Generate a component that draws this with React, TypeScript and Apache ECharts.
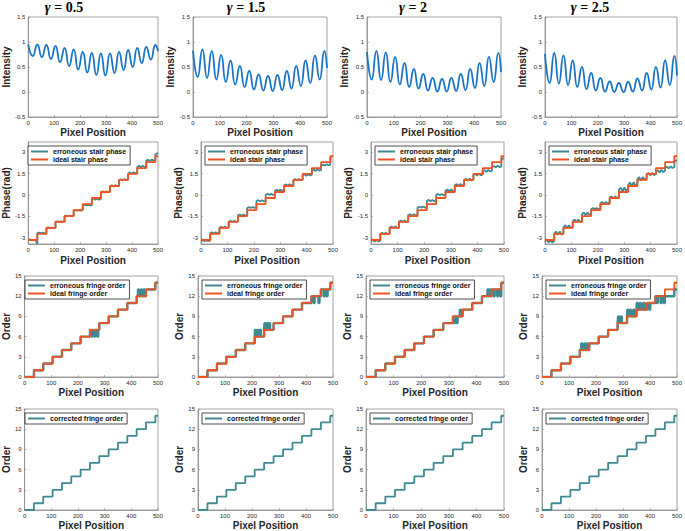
import React, { useEffect, useRef } from 'react';
import * as echarts from 'echarts';

const FONT = '"Liberation Sans", Arial, sans-serif';
const BLUE = '#1a74c6';
const TEAL = '#3f8a92';
const ORANGE = '#ee5422';

const gammaLabels = ['0.5', '1.5', '2', '2.5'];
const xTicks = [0, 100, 200, 300, 400, 500];
const phaseTicks = [-3, -1.5, 0, 1.5, 3];
const orderTicks = [0, 3, 6, 9, 12, 15];
const intensityTicks = [-0.5, 0, 0.5, 1, 1.5];

// fringe step positions (pixel) and ideal stair-phase levels
const stepX = [35, 70, 105, 140, 175, 210, 245, 280, 315, 350, 385, 420, 455, 490];
const phaseLevels = [-3.14, -2.72, -2.3, -1.88, -1.47, -1.05, -0.63, -0.21, 0.21, 0.63, 1.05, 1.47, 1.88, 2.3, 2.72];
const orderLevels = [0, 1, 2, 3, 4, 5, 6, 7, 8, 9, 10, 11, 12, 13, 14];

// intensity extremes: peaks at peakX, troughs at troughX, last value at 500
const peakX = [0, 35, 70, 105, 140, 175, 210, 245, 280, 315, 350, 385, 420, 455, 490];
const troughX = [17.5, 52.5, 87.5, 122.5, 157.5, 192.5, 227.5, 262.5, 297.5, 332.5, 367.5, 402.5, 437.5, 472.5];

const peaks05 = [0.95, 0.95, 0.94, 0.92, 0.88, 0.85, 0.8, 0.78, 0.77, 0.77, 0.8, 0.84, 0.88, 0.9, 0.94];
const troughs05 = [0.72, 0.7, 0.66, 0.6, 0.52, 0.45, 0.39, 0.34, 0.33, 0.38, 0.44, 0.5, 0.58, 0.65];
const end05 = 0.82;

const peaks15 = [0.83, 0.85, 0.82, 0.74, 0.63, 0.52, 0.42, 0.35, 0.32, 0.34, 0.42, 0.52, 0.63, 0.73, 0.82];
const troughs15 = [0.3, 0.28, 0.25, 0.2, 0.15, 0.1, 0.05, 0.03, 0.02, 0.04, 0.07, 0.12, 0.18, 0.25];
const end15 = 0.48;

const peaks20 = [0.8, 0.82, 0.79, 0.7, 0.58, 0.46, 0.36, 0.28, 0.26, 0.28, 0.36, 0.46, 0.58, 0.7, 0.78];
const troughs20 = [0.25, 0.24, 0.2, 0.15, 0.1, 0.07, 0.03, 0.01, 0.01, 0.02, 0.04, 0.08, 0.12, 0.2];
const end20 = 0.4;

const peaks25 = [0.76, 0.78, 0.73, 0.63, 0.5, 0.38, 0.28, 0.21, 0.18, 0.2, 0.27, 0.38, 0.5, 0.63, 0.72];
const troughs25 = [0.18, 0.17, 0.14, 0.1, 0.06, 0.03, 0.01, 0, 0, 0.01, 0.03, 0.05, 0.09, 0.14];
const end25 = 0.33;

// erroneous stair phase: samples across each fringe step
const errPhase05 = [
  [-3.14, -3.13, -3.15, -3.13, -3.15, -3.42],
  [-2.66, -2.62, -2.68, -2.62, -2.67, -2.64],
  [-2.3, -2.26, -2.32, -2.27, -2.3, -2.28],
  [-1.86, -1.84, -1.88, -1.84, -1.86, -1.85],
  [-1.46, -1.44, -1.47, -1.44, -1.46, -1.45],
  [-1.08, -1.05, -1.1, -1.05, -1.1, -1.06],
  [-0.72, -0.66, -0.74, -0.66, -0.74, -0.7],
  [-0.3, -0.24, -0.33, -0.25, -0.32, -0.28],
  [0.2, 0.26, 0.18, 0.27, 0.19, 0.24],
  [0.62, 0.68, 0.6, 0.69, 0.61, 0.66],
  [1.05, 1.1, 1.02, 1.11, 1.03, 1.08],
  [1.5, 1.58, 1.48, 1.6, 1.5, 1.56],
  [1.95, 2.04, 1.93, 2.05, 1.95, 2.0],
  [2.4, 2.46, 2.38, 2.47, 2.4, 2.44],
  [2.85, 2.9, 2.88],
];
const errPhase15 = [
  [-3.2, -3.17, -3.22, -3.17, -3.22, -3.19],
  [-2.65, -2.6, -2.68, -2.6, -2.68, -2.63],
  [-2.28, -2.22, -2.3, -2.22, -2.3, -2.25],
  [-1.85, -1.8, -1.88, -1.8, -1.88, -1.83],
  [-1.42, -1.37, -1.45, -1.37, -1.45, -1.4],
  [-0.9, -0.85, -0.9, -0.84, -0.9, -0.86],
  [-0.42, -0.36, -0.44, -0.36, -0.44, -0.4],
  [0.02, 0.08, 0, 0.08, 0, 0.05],
  [0.3, 0.36, 0.28, 0.37, 0.29, 0.33],
  [0.68, 0.74, 0.66, 0.75, 0.67, 0.72],
  [1.05, 1.12, 1.02, 1.12, 1.03, 1.08],
  [1.38, 1.44, 1.35, 1.45, 1.36, 1.42],
  [1.7, 1.78, 1.68, 1.79, 1.7, 1.75],
  [2.05, 2.12, 2.06, 2.14, 2.08, 2.12],
  [2.6, 2.7, 2.7],
];
const errPhase20 = [
  [-3.2, -3.15, -3.24, -3.15, -3.24, -3.19],
  [-2.72, -2.64, -2.74, -2.64, -2.74, -2.68],
  [-2.28, -2.2, -2.3, -2.2, -2.3, -2.24],
  [-1.85, -1.78, -1.88, -1.78, -1.88, -1.82],
  [-1.4, -1.34, -1.44, -1.34, -1.44, -1.38],
  [-0.88, -0.82, -0.88, -0.8, -0.88, -0.84],
  [-0.42, -0.34, -0.44, -0.34, -0.44, -0.38],
  [0, 0.08, -0.03, 0.08, -0.02, 0.04],
  [0.3, 0.38, 0.27, 0.39, 0.28, 0.34],
  [0.68, 0.76, 0.64, 0.77, 0.65, 0.72],
  [1.05, 1.13, 1.01, 1.14, 1.02, 1.08],
  [1.4, 1.48, 1.36, 1.49, 1.37, 1.44],
  [1.65, 1.74, 1.62, 1.75, 1.64, 1.7],
  [1.95, 2.03, 1.93, 2.04, 1.95, 2.0],
  [2.45, 2.55, 2.55],
];
const errPhase25 = [
  [-3.25, -3.15, -3.32, -3.15, -3.32, -3.2],
  [-2.7, -2.55, -2.78, -2.55, -2.78, -2.62],
  [-2.25, -2.1, -2.32, -2.1, -2.32, -2.18],
  [-1.85, -1.72, -1.9, -1.72, -1.9, -1.78],
  [-1.35, -1.22, -1.42, -1.22, -1.4, -1.28],
  [-0.98, -0.9, -1.0, -0.9, -1.0, -0.94],
  [-0.58, -0.48, -0.62, -0.48, -0.6, -0.52],
  [-0.18, -0.1, -0.22, -0.1, -0.2, -0.14],
  [0.35, 0.52, 0.25, 0.54, 0.26, 0.45],
  [0.7, 0.88, 0.6, 0.9, 0.62, 0.8],
  [1.1, 1.25, 1.02, 1.26, 1.04, 1.18],
  [1.42, 1.55, 1.36, 1.56, 1.38, 1.5],
  [1.62, 1.74, 1.58, 1.76, 1.6, 1.7],
  [1.88, 1.98, 1.85, 2.0, 1.88, 1.95],
  [2.3, 2.4, 2.42],
];

// erroneous fringe order: intervals [from, to, order] where it departs from the ideal stair
const errOrder05 = [[250, 254, 6], [261, 265, 6], [272, 276, 6], [425, 429, 13], [436, 440, 13], [446, 450, 13]];
const errOrder15 = [[211, 215, 7], [220, 224, 7], [229, 233, 7], [246, 250, 8], [255, 259, 8], [263, 267, 8], [428, 432, 11], [446, 450, 11], [465, 469, 12], [476, 480, 12]];
const errOrder20 = [[318, 322, 8], [328, 332, 8], [340, 344, 10], [440, 444, 13], [447, 451, 13], [462, 466, 12], [475, 479, 12], [486, 490, 12]];
const errOrder25 = [[145, 149, 5], [156, 160, 5], [166, 170, 5], [282, 286, 9], [292, 296, 9], [316, 320, 10], [326, 330, 10], [338, 342, 10], [351, 355, 11], [362, 366, 11], [375, 379, 11], [386, 390, 10], [397, 401, 10], [425, 429, 11], [439, 443, 11], [451, 455, 11], [455, 490, 12], [490, 500, 13]];

const peaksAll = [peaks05, peaks15, peaks20, peaks25];
const troughsAll = [troughs05, troughs15, troughs20, troughs25];
const endsAll = [end05, end15, end20, end25];
const errPhaseAll = [errPhase05, errPhase15, errPhase20, errPhase25];
const errOrderAll = [errOrder05, errOrder15, errOrder20, errOrder25];

// layout
const rowTop = [17, 142, 276, 409];
const rowHeight = [100, 102, 101, 101];
const colLeft = [[24, 193, 367, 545], [24, 201, 371, 545], [21, 198, 366, 542], [21, 198, 366, 542]];
const colRight = [[158, 327, 501, 678], [158, 333, 504, 678], [158, 333, 504, 678], [158, 333, 504, 678]];
const titleX = [64, 246, 413, 590];
const yNameGap = [[12, 13, 14, 13], [14, 14, 14, 13], [11, 11, 11, 11], [11, 11, 11, 11]];

function idealIndex(x: number) {
  let k = 0;
  for (const s of stepX) if (x >= s) k++;
  return k;
}

function intensityPoints(c: number) {
  const pts: number[][] = [];
  peakX.forEach((px, k) => {
    pts.push([px, peaksAll[c][k]]);
    if (k < troughX.length) pts.push([troughX[k], troughsAll[c][k]]);
  });
  pts.push([500, endsAll[c]]);
  return pts;
}

function stairPoints(levels: number[]) {
  const pts: number[][] = [[0, levels[0]]];
  stepX.forEach((s, k) => pts.push([s, levels[k + 1]]));
  pts.push([500, levels[levels.length - 1]]);
  return pts;
}

function errPhasePoints(c: number) {
  const pts: number[][] = [];
  errPhaseAll[c].forEach((vals, k) => {
    const x0 = k === 0 ? 0 : stepX[k - 1];
    const last = k >= stepX.length;
    const x1 = last ? 500 : stepX[k] - 0.01;
    vals.forEach((v, i) => pts.push([x0 + ((x1 - x0) * i) / (vals.length - 1), v]));
  });
  return pts;
}

function errOrderPoints(c: number) {
  const g = errOrderAll[c];
  const xs = new Set<number>([0, 500, ...stepX]);
  g.forEach((it) => { xs.add(it[0]); xs.add(it[1]); });
  const sorted = Array.from(xs).sort((a, b) => a - b);
  const lvl = (x: number) => {
    for (const it of g) if (x >= it[0] && x < it[1]) return it[2];
    return orderLevels[idealIndex(x)];
  };
  return sorted.map((x, i) => [x, i === sorted.length - 1 ? lvl(x - 0.001) : lvl(x)]);
}

function makeLegend(left: number, top: number, names: string[], heights: number[]) {
  return {
    orient: 'vertical', left, top, selectedMode: false,
    data: names.map((n, i) => ({ name: n, icon: 'rect', itemStyle: {}, itemHeight: heights[i] })),
    backgroundColor: '#fff', borderColor: '#222', borderWidth: 0.8, borderRadius: 0,
    padding: [2, 4, 2, 3], itemGap: 1, itemWidth: 17, itemHeight: 2,
    textStyle: { fontSize: 7, fontWeight: 'bold', fontFamily: FONT, color: '#111' },
  };
}

function buildOption() {
  const grid: any[] = [];
  const xAxis: any[] = [];
  const yAxis: any[] = [];
  const series: any[] = [];
  const legend: any[] = [];
  const labelStyle = { fontSize: 6, color: '#262626', fontFamily: FONT };
  const nameStyle = { fontSize: 10, fontWeight: 'bold', color: '#262626', fontFamily: FONT };
  const axisLine = { show: true, onZero: false, lineStyle: { color: '#8a8a8a', width: 0.8 } };
  const axisTick = { show: true, inside: true, length: 2, lineStyle: { color: '#8a8a8a', width: 0.6 } };

  for (let r = 0; r < 4; r++) {
    for (let c = 0; c < 4; c++) {
      const idx = r * 4 + c;
      const L = colLeft[r][c];
      const W = colRight[r][c] - L;
      grid.push({ left: L, top: rowTop[r], width: W, height: rowHeight[r], show: true, borderColor: '#8a8a8a', borderWidth: 0.8, backgroundColor: '#fff' });
      xAxis.push({
        type: 'value', gridIndex: idx, min: 0, max: 500, interval: 100,
        name: 'Pixel Position', nameLocation: 'middle', nameGap: r === 1 ? 11 : 10, nameTextStyle: nameStyle,
        axisLine, axisTick, splitLine: { show: false },
        axisLabel: { ...labelStyle, margin: 3 },
      });
      let y: any;
      if (r === 0) {
        y = { min: -0.5, max: 1.5, interval: 0.5, name: 'Intensity' };
      } else if (r === 1) {
        y = {
          min: -3.42, max: 3.7, name: 'Phase(rad)',
          axisLabel: { ...labelStyle, margin: 3, customValues: phaseTicks },
          axisTick: { ...axisTick, customValues: phaseTicks },
        };
      } else {
        y = { min: 0, max: 15, interval: 3, name: 'Order' };
      }
      yAxis.push({
        type: 'value', gridIndex: idx, nameLocation: 'middle', nameGap: yNameGap[r][c], nameTextStyle: nameStyle,
        axisLine, axisTick, splitLine: { show: false },
        axisLabel: { ...labelStyle, margin: 3 },
        ...y,
      });

      const base = { xAxisIndex: idx, yAxisIndex: idx, symbol: 'none', showSymbol: false, animation: false, silent: true };
      if (r === 0) {
        series.push({ ...base, type: 'line', name: 'Intensity ' + c, smooth: 0.55, data: intensityPoints(c), lineStyle: { color: BLUE, width: 1.8 }, itemStyle: { color: BLUE } });
      } else if (r === 1) {
        series.push({ ...base, type: 'line', name: 'erroneous stair phase', data: errPhasePoints(c), lineStyle: { color: TEAL, width: 1.8 }, itemStyle: { color: TEAL } });
        series.push({ ...base, type: 'line', name: 'ideal stair phase', step: 'end', data: stairPoints(phaseLevels), lineStyle: { color: ORANGE, width: 1.8 }, itemStyle: { color: ORANGE } });
        legend.push(makeLegend(L + 4, rowTop[r] + 4, ['erroneous stair phase', 'ideal stair phase'], [2, 2]));
      } else if (r === 2) {
        series.push({ ...base, type: 'line', name: 'erroneous fringe order', step: 'end', data: errOrderPoints(c), lineStyle: { color: TEAL, width: 2.4 }, itemStyle: { color: TEAL } });
        series.push({ ...base, type: 'line', name: 'ideal fringe order', step: 'end', data: stairPoints(orderLevels), lineStyle: { color: ORANGE, width: 1.8 }, itemStyle: { color: ORANGE } });
        legend.push(makeLegend(L + 4, rowTop[r] + 4, ['erroneous fringe order', 'ideal fringe order'], [3, 2]));
      } else {
        series.push({ ...base, type: 'line', name: 'corrected fringe order', step: 'end', data: stairPoints(orderLevels), lineStyle: { color: TEAL, width: 1.8 }, itemStyle: { color: TEAL } });
        legend.push(makeLegend(L + 4, rowTop[r] + 4, ['corrected fringe order'], [2]));
      }
    }
  }

  const graphic = titleX.map((cx, i) => ({
    type: 'text', x: cx, y: 7,
    style: {
      text: '{g|γ} = ' + gammaLabels[i],
      rich: { g: { fontStyle: 'italic', fontWeight: 'bold', fontSize: 14, fontFamily: '"Liberation Serif", serif' } },
      fontSize: 14, fontWeight: 'bold', fontFamily: '"Liberation Serif", serif',
      fill: '#000', align: 'center', verticalAlign: 'middle',
    },
  }));

  return { animation: false, backgroundColor: '#fff', grid, xAxis, yAxis, series, legend, graphic };
}

export default function App() {
  const ref = useRef<HTMLDivElement>(null);
  useEffect(() => {
    if (!ref.current) return;
    const chart = echarts.init(ref.current, undefined, { renderer: 'svg' });
    chart.setOption(buildOption() as any);
    return () => chart.dispose();
  }, []);
  return <div ref={ref} style={{ position: 'fixed', left: 0, top: 0, width: 685, height: 531, background: '#fff' }} />;
}
